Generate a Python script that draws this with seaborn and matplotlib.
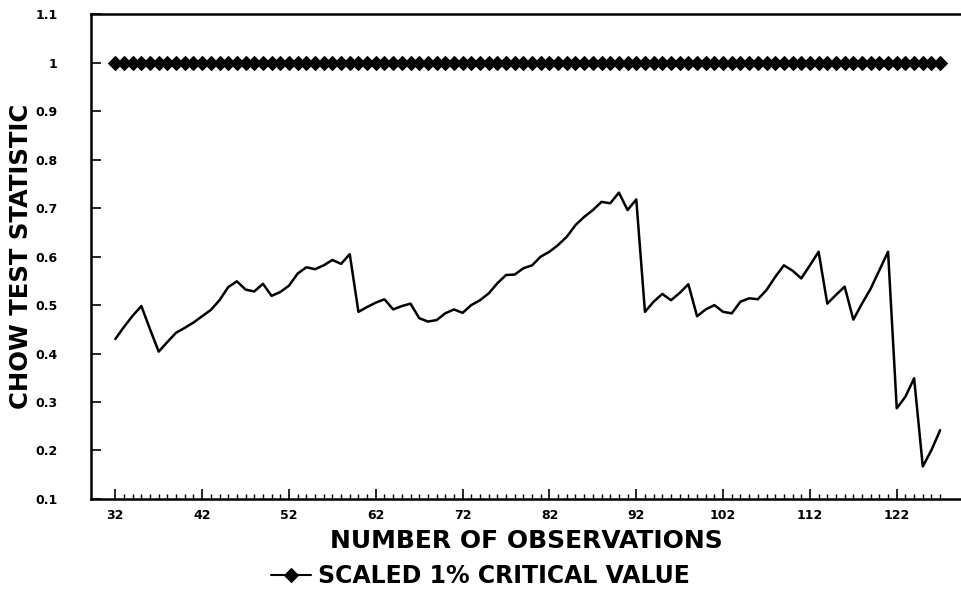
import matplotlib
matplotlib.use("Agg")
import matplotlib.pyplot as plt
import seaborn as sns
import pandas as pd

# number of observations used in each break-point test
n_obs = list(range(32, 128))

# chow test statistic (scaled)
chow_stat = [
    0.430, 0.455, 0.478, 0.498, 0.450, 0.404, 0.424, 0.443, 0.453, 0.464,   # 32-41
    0.477, 0.490, 0.510, 0.537, 0.549, 0.532, 0.528, 0.544, 0.519, 0.527,   # 42-51
    0.540, 0.565, 0.578, 0.574, 0.582, 0.593, 0.585, 0.605, 0.486, 0.496,   # 52-61
    0.505, 0.512, 0.491, 0.498, 0.503, 0.473, 0.466, 0.469, 0.483, 0.491,   # 62-71
    0.484, 0.500, 0.510, 0.524, 0.545, 0.562, 0.563, 0.576, 0.582, 0.600,   # 72-81
    0.610, 0.624, 0.641, 0.665, 0.682, 0.696, 0.713, 0.710, 0.732, 0.696,   # 82-91
    0.718, 0.486, 0.507, 0.523, 0.510, 0.525, 0.543, 0.477, 0.491, 0.500,   # 92-101
    0.486, 0.483, 0.507, 0.514, 0.512, 0.531, 0.558, 0.582, 0.571, 0.555,   # 102-111
    0.582, 0.610, 0.503, 0.521, 0.538, 0.470, 0.503, 0.534, 0.572, 0.610,   # 112-121
    0.287, 0.311, 0.349, 0.167, 0.201, 0.242,                               # 122-127
]

# scaled 1% critical value (constant)
crit_value = [1.0] * len(n_obs)

x_ticks = [32, 42, 52, 62, 72, 82, 92, 102, 112, 122]
y_ticks = [0.1, 0.2, 0.3, 0.4, 0.5, 0.6, 0.7, 0.8, 0.9, 1.0, 1.1]
y_tick_labels = ["0.1", "0.2", "0.3", "0.4", "0.5", "0.6", "0.7", "0.8", "0.9", "1", "1.1"]

df = pd.DataFrame({"n_obs": n_obs, "chow": chow_stat, "crit": crit_value})

sns.set_style("white")
plt.rcParams["font.family"] = ["DejaVu Sans"]
plt.rcParams["text.color"] = "black"
plt.rcParams["axes.labelcolor"] = "black"
plt.rcParams["xtick.color"] = "black"
plt.rcParams["ytick.color"] = "black"

fig = plt.figure(figsize=(9.61, 5.94), dpi=100)
ax = fig.add_axes([0.0947, 0.160, 0.9053, 0.816])

sns.lineplot(data=df, x="n_obs", y="crit", ax=ax, color="black", linewidth=1.5,
             marker="D", markersize=7.5, markeredgecolor="black", markerfacecolor="black",
             label="SCALED 1% CRITICAL VALUE")
sns.lineplot(data=df, x="n_obs", y="chow", ax=ax, color="black", linewidth=1.8,
             label="_nolegend_")

ax.set_xlim(29.2, 129.4)
ax.set_ylim(0.1, 1.1)

ax.set_xticks(x_ticks)
ax.set_xticks(n_obs, minor=True)
ax.set_yticks(y_ticks)
ax.set_yticklabels(y_tick_labels)
ax.tick_params(axis="x", which="major", direction="in", length=7, width=1.2,
               labelsize=9, pad=7, bottom=True)
ax.tick_params(axis="x", which="minor", direction="in", length=3.5, width=1.0, bottom=True)
ax.tick_params(axis="y", direction="in", length=7, width=1.2, labelsize=9, pad=24, left=True)
for lbl in ax.get_xticklabels() + ax.get_yticklabels():
    lbl.set_fontweight("bold")

for side in ["left", "bottom", "top"]:
    ax.spines[side].set_color("black")
    ax.spines[side].set_linewidth(1.8)
ax.spines["right"].set_visible(False)

ax.set_xlabel("NUMBER OF OBSERVATIONS", fontsize=18, fontweight="bold", labelpad=5)
ax.set_ylabel("CHOW TEST STATISTIC", fontsize=17.5, fontweight="bold", labelpad=2)

ax.get_legend().remove()
handles, labels = ax.get_legend_handles_labels()
fig.legend(handles, labels, loc="center", bbox_to_anchor=(0.5, 0.03), frameon=False,
           prop={"size": 17, "weight": "bold"}, handlelength=1.7, handletextpad=0.3,
           markerscale=0.9)

fig.savefig("out.png", dpi=100)
